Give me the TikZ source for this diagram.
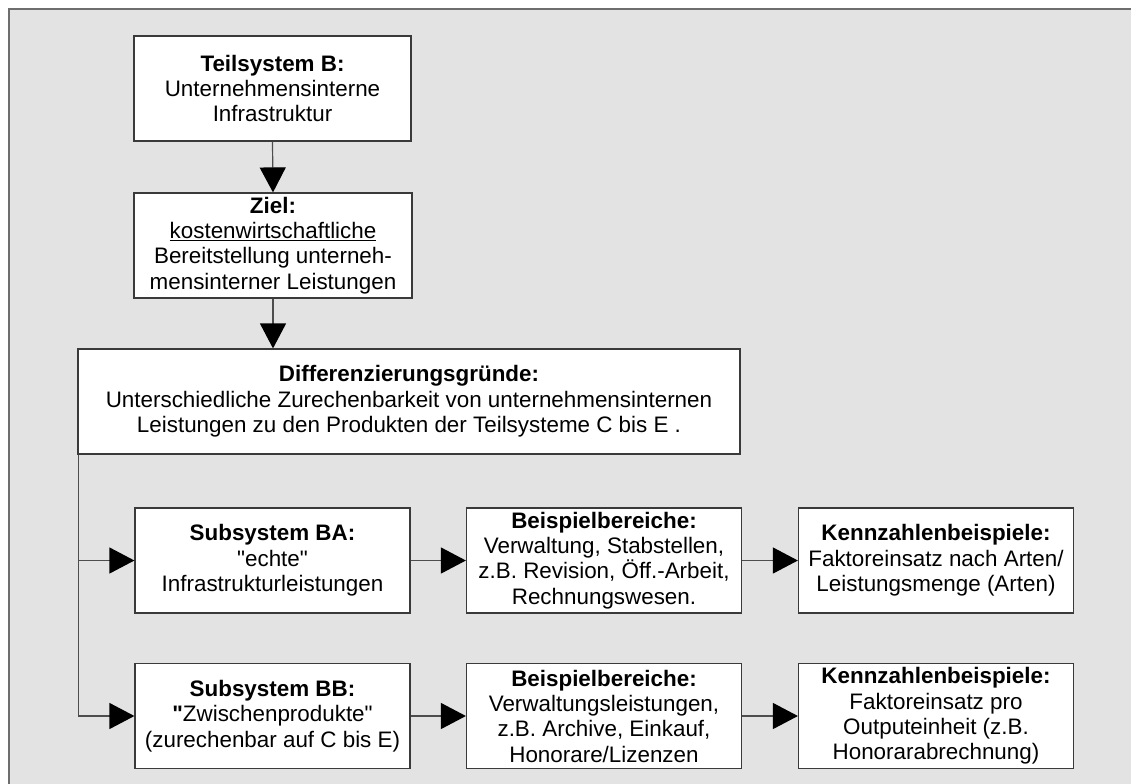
\documentclass[tikz,border=0pt]{standalone}
\usepackage{fontspec}
\setmainfont{Liberation Sans}[Ligatures=TeXOff]
\usetikzlibrary{arrows.meta}
\definecolor{panel}{HTML}{E3E3E3}
\definecolor{panelrule}{HTML}{6E6E6E}
\definecolor{boxrule}{HTML}{3A3A3A}
\definecolor{wire}{HTML}{4D4D4D}
\begin{document}
\begin{tikzpicture}[x=0.75pt,y=-0.75pt,
  box/.style={draw=boxrule,line width=0.9pt,fill=white,align=center,
    inner sep=0pt,minimum height=78.75pt,
    font=\fontsize{16.8}{19}\selectfont},
  wide/.style={minimum width=206.25pt},
  link/.style={draw=wire,line width=0.9pt,
    -{Triangle[length=18.75pt,width=19.5pt,color=black]}}]

% page and grey panel
\clip (0,0) rectangle (1131,783);
\fill[white] (0,0) rectangle (1131,783);
\draw[panelrule,fill=panel,line width=1pt] (9,9) rectangle (1140,792);

% main column
\node[box,minimum width=207.75pt] (tsb) at (272.5,88.5)
  {\textbf{Teilsystem B:}\\Unternehmensinterne\\Infrastruktur};
\node[box,minimum width=208.5pt] (ziel) at (273,245.5)
  {\textbf{Ziel:}\\\underline{kostenwirtschaftliche}\\Bereitstellung unterneh-\\mensinterner Leistungen};
\node[box,minimum width=496.5pt] (diff) at (409,401.5)
  {\textbf{Differenzierungsgründe:}\\Unterschiedliche Zurechenbarkeit von unternehmensinternen\\Leistungen zu den Produkten der Teilsysteme C bis E .};

% subsystem BA row
\node[box,wide] (ba) at (272.5,560.5)
  {\textbf{Subsystem BA:}\\"echte"\\Infrastrukturleistungen};
\node[box,wide] (beia) at (604,560.5)
  {\textbf{Beispielbereiche:}\\Verwaltung, Stabstellen,\\z.B. Revision, Öff.-Arbeit,\\Rechnungswesen.};
\node[box,wide] (ka) at (936,560.5)
  {\textbf{Kennzahlenbeispiele:}\\Faktoreinsatz nach Arten/\\Leistungsmenge (Arten)};

% subsystem BB row
\node[box,wide] (bb) at (272.5,716)
  {\textbf{Subsystem BB:}\\\textbf{"}Zwischenprodukte"\\(zurechenbar auf C bis E)};
\node[box,wide] (beib) at (604,716)
  {\textbf{Beispielbereiche:}\\Verwaltungsleistungen,\\z.B. Archive, Einkauf,\\Honorare/Lizenzen};
\node[box,wide] (kb) at (936,716)
  {\textbf{Kennzahlenbeispiele:}\\Faktoreinsatz pro\\Outputeinheit (z.B.\\Honorarabrechnung)};

% connectors
\draw[link] (tsb.south) -- (ziel.north);
\draw[link] (ziel.south) -- (ziel.south |- diff.north);
\draw[link] ([xshift=0.75pt]diff.south west) |- (bb.west);
\draw[link] ([xshift=0.75pt]diff.south west |- ba.west) -- (ba.west);
\draw[link] (ba.east) -- (beia.west);
\draw[link] (beia.east) -- (ka.west);
\draw[link] (bb.east) -- (beib.west);
\draw[link] (beib.east) -- (kb.west);
\end{tikzpicture}
\end{document}
